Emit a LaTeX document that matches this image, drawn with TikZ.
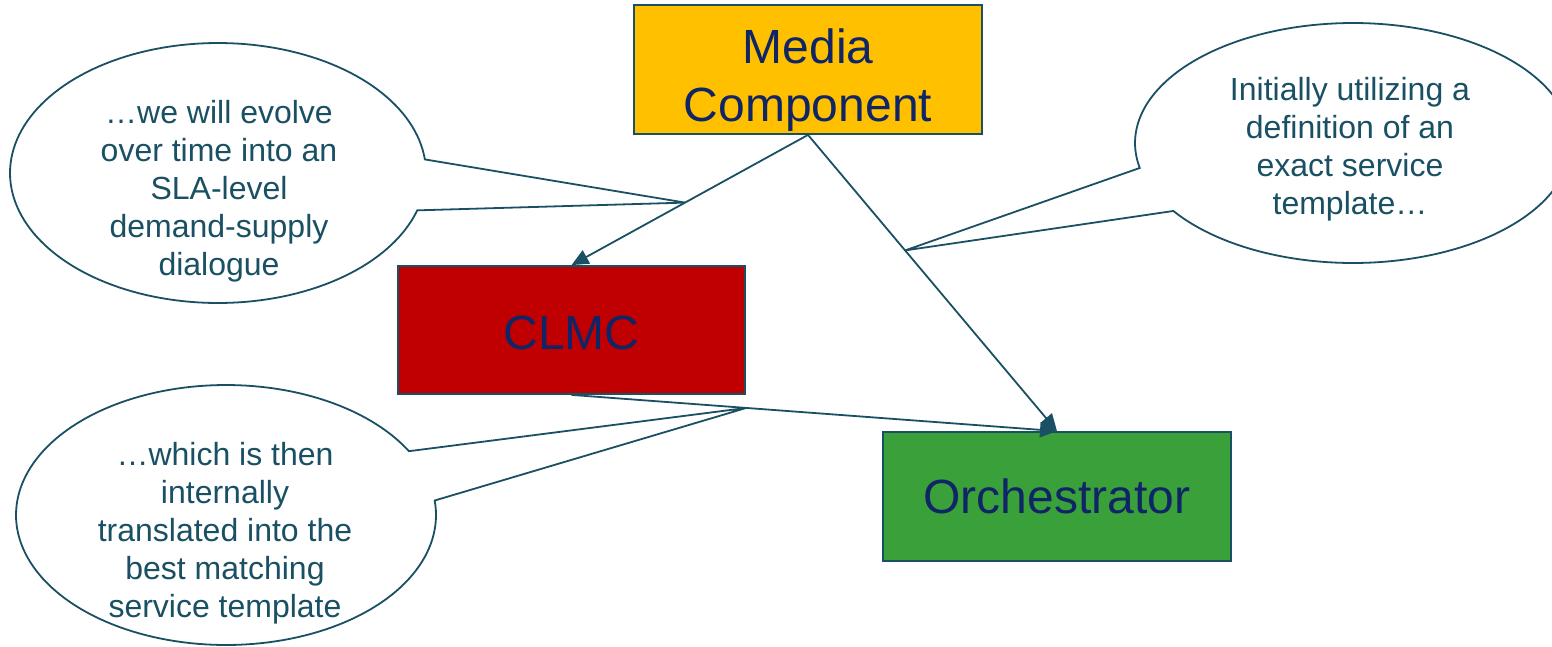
\documentclass[tikz,border=0pt]{standalone}
\usepackage{fontspec}
\setmainfont{Liberation Sans}
\usetikzlibrary{arrows.meta,calc}
\definecolor{lineC}{HTML}{1A5063}
\definecolor{boxtxt}{HTML}{102566}
\definecolor{mediaY}{HTML}{FFC000}
\definecolor{clmcR}{HTML}{C00000}
\definecolor{orchG}{HTML}{3AA03A}
\tikzset{
 box/.style={draw=lineC, line width=1.8pt, minimum width=347pt, minimum height=128pt, text=boxtxt, font=\fontsize{48}{58}\selectfont, align=center, inner sep=0pt},
 conn/.style={draw=lineC, line width=1.8pt, -{Triangle[length=17pt,width=15pt]}},
 bubble/.style={draw=lineC, line width=1.8pt, fill=white, line join=miter},
 bubbletext/.style={text=lineC, font=\fontsize{32}{38}\selectfont, align=center, inner sep=0pt}
}
\begin{document}
\begin{tikzpicture}[x=1pt,y=-1pt]
\useasboundingbox (0,0) rectangle (1552,646);
\fill[white] (0,0) rectangle (1552,646);
\node[box, fill=mediaY, minimum width=348pt, minimum height=129pt] (media) at (808,69.5) {\rule{0pt}{55pt}Media\\Component};
\node[box, fill=clmcR] (clmc) at (571.5,330) {\rule{0pt}{40pt}CLMC};
\node[box, fill=orchG, minimum width=348pt, minimum height=129pt] (orch) at (1057,496.5) {Orchestrator};
\draw[conn] (media.south) -- (clmc.north);
\draw[conn] (media.south) -- (orch.north);
\draw[conn] (clmc.south) -- (orch.north);
\coordinate (tipA) at ($(media.south)!0.52!(clmc.north)$);
\coordinate (tipB) at ($(media.south)!0.39!(orch.north)$);
\coordinate (tipC) at ($(clmc.south)!0.36!(orch.north)$);
\draw[bubble] (tipA) -- plot[domain=16.7:354, samples=160] ({218+208*cos(\x)},{173+130*sin(\x)}) -- cycle;
\draw[bubble] (tipC) -- plot[domain=-6.4:330.6, samples=160] ({226+210*cos(\x)},{515+130*sin(\x)}) -- cycle;
\draw[bubble] (tipB) -- plot[domain=168:505.5, samples=160] ({1353+218*cos(\x)},{143+120*sin(\x)}) -- cycle;
\node[bubbletext] (txtA) at (219,191) {…we will evolve\\over time into an\\SLA-level\\demand-supply\\dialogue};
\node[bubbletext] (txtC) at (225,533) {…which is then\\internally\\translated into the\\best matching\\service template};
\node[bubbletext] (txtB) at (1350,149) {Initially utilizing a\\definition of an\\exact service\\template…};
\end{tikzpicture}
\end{document}
